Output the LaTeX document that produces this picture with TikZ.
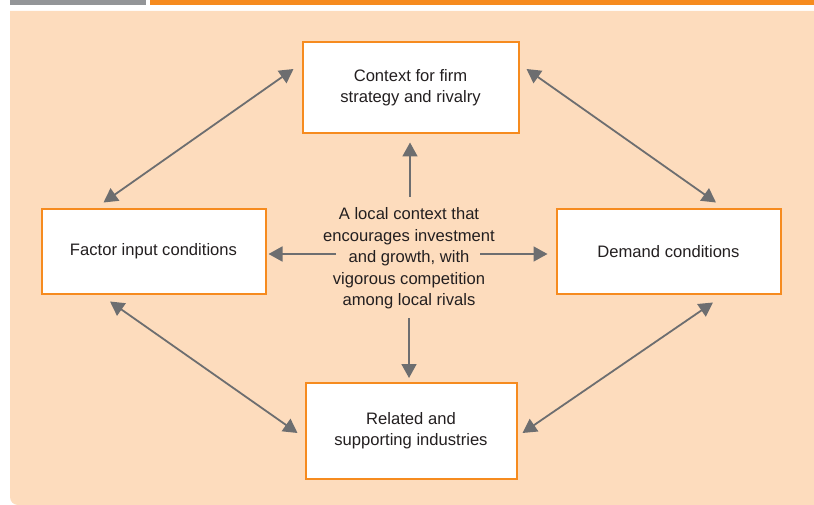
\documentclass[tikz,border=0pt]{standalone}
\usepackage{fontspec}
\setmainfont{Liberation Sans}
\usepackage{xcolor}
\usetikzlibrary{arrows.meta,positioning,calc}

\definecolor{peach}{HTML}{FDDCBD}
\definecolor{boxorange}{HTML}{F68B1F}
\definecolor{bargray}{HTML}{939598}
\definecolor{arrowgray}{HTML}{6D6E70}
\definecolor{textgray}{HTML}{231F20}

\begin{document}
\begin{tikzpicture}[x=1pt, y=-1pt,
    font=\fontsize{16.6}{21.4}\selectfont,
    block/.style={rectangle, draw=boxorange, line width=2pt, fill=white, text=textgray, align=center, inner sep=0pt},
    link/.style={{Triangle[length=14pt,width=15pt]}-{Triangle[length=14pt,width=15pt]}, draw=arrowgray, line width=1.8pt},
    oneway/.style={-{Triangle[length=14pt,width=15pt]}, draw=arrowgray, line width=1.8pt}]

    \useasboundingbox (0,0) rectangle (814,505);

    % Header bars and panel
    \fill[bargray] (10,0) rectangle (145.5,5.3);
    \fill[boxorange] (150,0) rectangle (814,5.3);
    \fill[peach] (814,11) -- (10,11) -- (10,497) arc[start angle=180, end angle=90, radius=8] -- (814,505) -- cycle;

    % Centre text
    \node[text=textgray, align=center] (centre) at (409,258.5) {A local context that\\encourages investment\\and growth, with\\vigorous competition\\among local rivals};

    % Four conditions
    \node[block, minimum width=216pt, minimum height=91pt] (strategy) at (410.5,88) {Context for firm\\strategy and rivalry};
    \node[block, minimum width=224pt, minimum height=84pt] (factor) at (153.5,251.5) {Factor input conditions};
    \node[block, minimum width=224pt, minimum height=84pt] (demand) at (668.5,251.5) {Demand conditions};
    \node[block, minimum width=211pt, minimum height=96pt] (related) at (411,430.5) {Related and\\supporting industries};

    % Arrows from the centre
    \draw[oneway] ($(centre.center)+(1,-61.5)$) -- ($(strategy.south)+(-0.5,8)$);
    \draw[oneway] ($(centre.center)+(0,59.5)$) -- ($(related.north)+(-2,-3.5)$);
    \draw[oneway] ($(centre.center)+(-73,-4.5)$) -- ($(factor.east)+(2,2.5)$);
    \draw[oneway] ($(centre.center)+(71,-4.5)$) -- ($(demand.west)+(-8,2.5)$);

    % Arrows round the diamond
    \draw[link] ($(factor.north)+(-50,-6)$) -- ($(strategy.west)+(-8,-19)$);
    \draw[link] ($(strategy.east)+(7,-19)$) -- ($(demand.north)+(47.5,-6)$);
    \draw[link] ($(factor.south)+(-43.5,7)$) -- ($(related.west)+(-7,2.5)$);
    \draw[link] ($(demand.south)+(44.5,8)$) -- ($(related.east)+(5,2.5)$);

\end{tikzpicture}
\end{document}
